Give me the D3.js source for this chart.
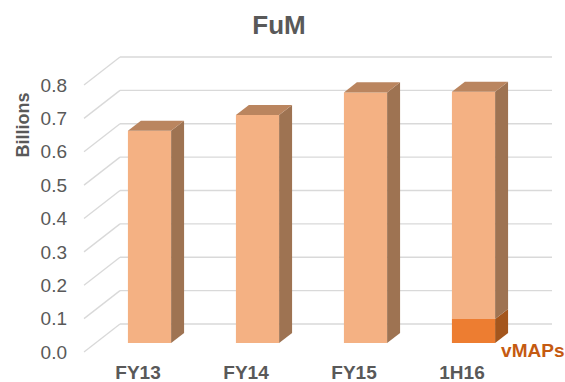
<!DOCTYPE html>
<html><head><meta charset="utf-8">
<script src="https://cdn.jsdelivr.net/npm/d3@7"></script>
<style>html,body{margin:0;padding:0;background:#fff;}svg{display:block;}</style>
</head><body>
<svg id="chart" width="565" height="382"></svg>
<script>
const categories = ["FY13", "FY14", "FY15", "1H16"];
const fumValues = [0.636, 0.683, 0.751, 0.681];
const vmapsValues = [0, 0, 0, 0.072];
const yTicks = [0, 0.1, 0.2, 0.3, 0.4, 0.5, 0.6, 0.7, 0.8];
const seriesNames = ["vMAPs", "FuM"];

const svg = d3.select("#chart");
const font = "'Liberation Sans', Arial, sans-serif";
const grey = "#595959";

// front plane geometry
const x = d3.scaleBand().domain(categories).range([84, 516]);
const y = d3.scaleLinear().domain([0, 0.8]).range([352, 85]);
const depthX = 36, depthY = -28;
const off = f => [depthX * f, depthY * f];

// walls gridlines
const g = svg.append("g");
yTicks.forEach(t => {
  const [bx, by] = off(1);
  g.append("line").attr("x1", x.range()[0]).attr("y1", y(t))
    .attr("x2", x.range()[0] + bx).attr("y2", y(t) + by)
    .attr("stroke", "#D9D9D9").attr("stroke-width", 1.3);
  g.append("line").attr("x1", x.range()[0] + bx).attr("y1", y(t) + by)
    .attr("x2", x.range()[1] + bx).attr("y2", y(t) + by)
    .attr("stroke", "#D9D9D9").attr("stroke-width", 1.3);
});

// y tick labels
svg.append("g").selectAll("text").data(yTicks).join("text")
  .attr("x", 67).attr("y", d => y(d)).attr("dy", "0.35em")
  .attr("text-anchor", "end").attr("font-family", font).attr("font-size", 19)
  .attr("fill", grey).text(d => d3.format(".1f")(d));

// axis title
svg.append("text").attr("transform", "translate(29,125) rotate(-90)")
  .attr("text-anchor", "middle").attr("font-family", font).attr("font-weight", "bold")
  .attr("font-size", 18).attr("fill", grey).text("Billions");

// chart title
svg.append("text").attr("x", 279).attr("y", 34).attr("text-anchor", "middle")
  .attr("font-family", font).attr("font-weight", "bold").attr("font-size", 26)
  .attr("fill", grey).text("FuM");

// category labels
svg.append("g").selectAll("text").data(categories).join("text")
  .attr("x", d => x(d) + x.bandwidth() / 2).attr("y", 379)
  .attr("text-anchor", "middle").attr("font-family", font).attr("font-weight", "bold")
  .attr("font-size", 19).attr("fill", grey).text(d => d);

// bars
const f1 = 0.32, f2 = 0.68;
const [fx1, fy1] = off(f1);
const [fx2, fy2] = off(f2);
const ddx = fx2 - fx1, ddy = fy2 - fy1;
const barW = x.bandwidth() * 0.4;
const colors = {
  vMAPs: { front: "#ED7D31", side: "#A4561D", top: "#BE6428" },
  FuM: { front: "#F4B183", side: "#9E7352", top: "#BA855F" }
};
const pts = a => a.map(p => p.join(",")).join(" ");
const bars = svg.append("g");
categories.forEach((c, i) => {
  const left = x(c) + x.bandwidth() / 2 - barW / 2 + fx1;
  const right = left + barW;
  const segs = [
    { name: "vMAPs", v0: 0, v1: vmapsValues[i] },
    { name: "FuM", v0: vmapsValues[i], v1: vmapsValues[i] + fumValues[i] }
  ].filter(s => s.v1 > s.v0);
  segs.forEach((s, k) => {
    const top = y(s.v1) + fy1, bot = y(s.v0) + fy1;
    const col = colors[s.name];
    bars.append("polygon").attr("points", pts([[left, top], [right, top], [right, bot], [left, bot]]))
      .attr("fill", col.front);
    bars.append("polygon").attr("points", pts([[right, top], [right + ddx, top + ddy], [right + ddx, bot + ddy], [right, bot]]))
      .attr("fill", col.side);
    if (k === segs.length - 1) {
      bars.append("polygon").attr("points", pts([[left, top], [left + ddx, top + ddy], [right + ddx, top + ddy], [right, top]]))
        .attr("fill", col.top);
    }
  });
});

// vMAPs data label
const lastCat = categories[3];
svg.append("text")
  .attr("x", x(lastCat) + x.bandwidth() / 2 + barW / 2 + fx1 + 6)
  .attr("y", 357).attr("font-family", font).attr("font-weight", "bold")
  .attr("font-size", 19).attr("fill", "#C55A11").text(seriesNames[0]);
</script>
</body></html>
